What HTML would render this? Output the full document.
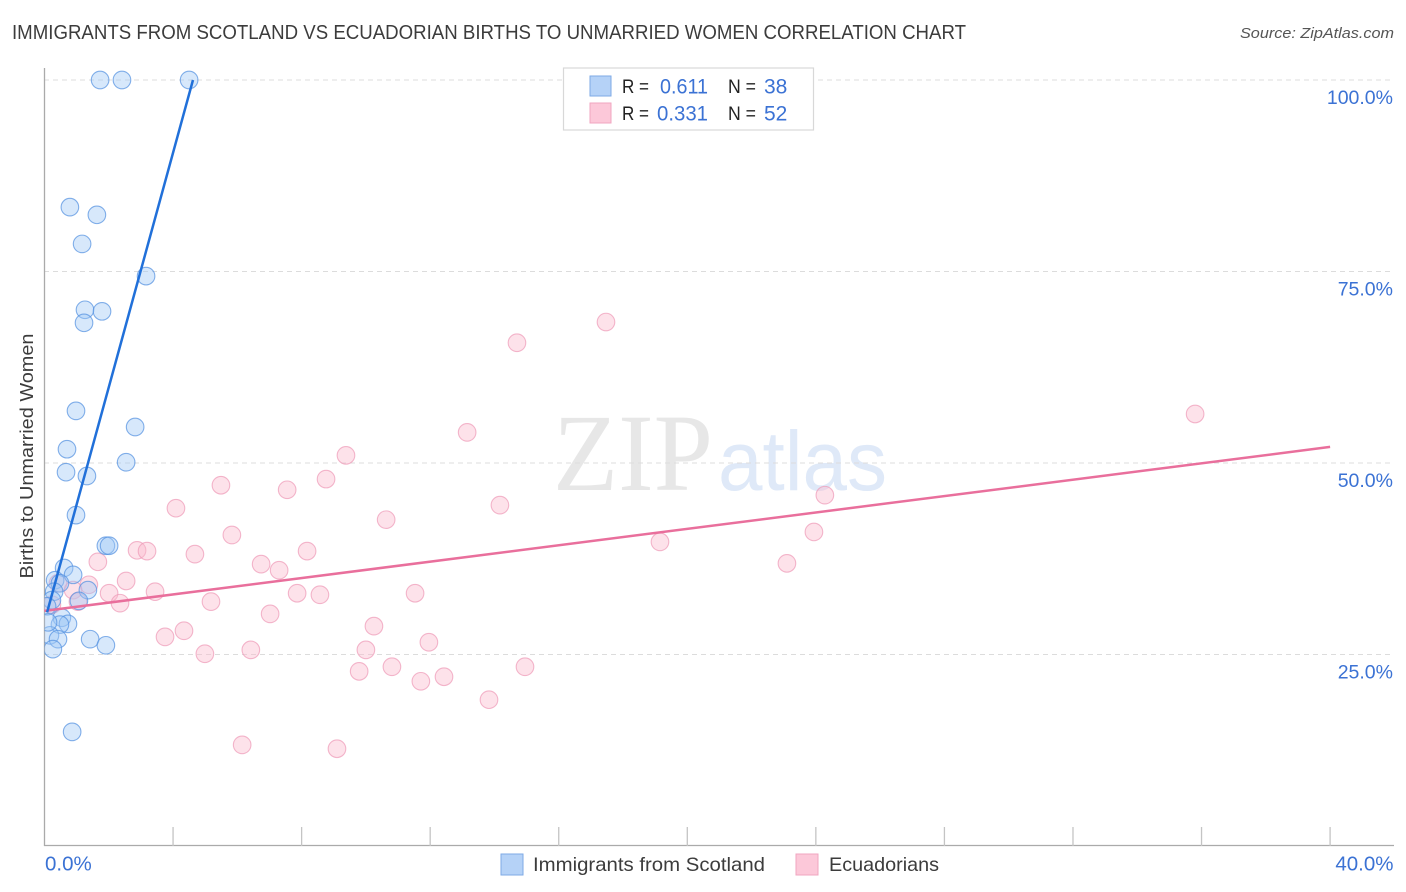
<!DOCTYPE html>
<html lang="en">
<head>
<meta charset="utf-8">
<title>Immigrants from Scotland vs Ecuadorian Births to Unmarried Women Correlation Chart</title>
<style>
html,body{margin:0;padding:0;background:#fff;width:1406px;height:892px;overflow:hidden}
svg{display:block;font-family:"Liberation Sans",sans-serif}
</style>
</head>
<body>
<svg id="chart" width="1406" height="892" viewBox="0 0 1406 892" xmlns="http://www.w3.org/2000/svg">
<defs><clipPath id="plot-clip"><rect x="44.5" y="60" width="1350" height="786"/></clipPath></defs>
<text x="12" y="39" font-size="20" fill="#3c3c3c" textLength="954" lengthAdjust="spacingAndGlyphs">IMMIGRANTS FROM SCOTLAND VS ECUADORIAN BIRTHS TO UNMARRIED WOMEN CORRELATION CHART</text>
<text x="1394" y="38" font-size="15" font-style="italic" fill="#555" text-anchor="end" textLength="154" lengthAdjust="spacingAndGlyphs">Source: ZipAtlas.com</text>
<g>
<text x="553" y="490" font-family="'Liberation Serif',serif" font-size="110" fill="#e7e7e7" textLength="160" lengthAdjust="spacingAndGlyphs">ZIP</text>
<text x="718" y="490" font-size="84" fill="#dfe9f8" textLength="169" lengthAdjust="spacingAndGlyphs">atlas</text>
</g>
<g id="grid"></g>
<g id="axes">
<line x1="44.5" y1="68" x2="44.5" y2="846" stroke="#aaa" stroke-width="1.3"/>
<line x1="44" y1="845.5" x2="1394" y2="845.5" stroke="#aaa" stroke-width="1.3"/>
</g>
<g id="xticks"></g>
<g id="ylabels"></g>
<g id="xlabels"></g>
<text transform="translate(33,456) rotate(-90)" font-size="18" fill="#3c3c3c" text-anchor="middle" textLength="245" lengthAdjust="spacingAndGlyphs">Births to Unmarried Women</text>
<g id="points-ecuadorians" clip-path="url(#plot-clip)"></g>
<g id="points-scotland" clip-path="url(#plot-clip)"></g>
<g id="trends"></g>
<g>
<rect x="563.5" y="68" width="250" height="62" fill="#fff" stroke="#d8d8d8" stroke-width="1.2"/>
<rect x="590" y="76" width="21" height="20" fill="#b5d2f7" stroke="#7eaae6" stroke-width="1"/>
<rect x="590" y="103" width="21" height="20" fill="#fcc8d9" stroke="#f0a6c0" stroke-width="1"/>
<text x="622" y="93" font-size="19.5" fill="#222" textLength="27" lengthAdjust="spacingAndGlyphs">R =</text>
<text x="660" y="93.500" font-size="21" fill="#3b72d4" textLength="48" lengthAdjust="spacingAndGlyphs">0.611</text>
<text x="728" y="93" font-size="19.5" fill="#222" textLength="28" lengthAdjust="spacingAndGlyphs">N =</text>
<text x="764" y="93.500" font-size="21" fill="#3b72d4">38</text>
<text x="622" y="120" font-size="19.5" fill="#222" textLength="27" lengthAdjust="spacingAndGlyphs">R =</text>
<text x="657" y="120.500" font-size="21" fill="#3b72d4" textLength="51" lengthAdjust="spacingAndGlyphs">0.331</text>
<text x="728" y="120" font-size="19.5" fill="#222" textLength="28" lengthAdjust="spacingAndGlyphs">N =</text>
<text x="764" y="120.500" font-size="21" fill="#3b72d4">52</text>
</g>
<g>
<rect x="501" y="854" width="22" height="21" fill="#b5d2f7" stroke="#7eaae6" stroke-width="1"/>
<text x="533" y="871" font-size="19.5" fill="#3c3c3c" textLength="232" lengthAdjust="spacingAndGlyphs">Immigrants from Scotland</text>
<rect x="796" y="854" width="22" height="21" fill="#fcc8d9" stroke="#f0a6c0" stroke-width="1"/>
<text x="829" y="871" font-size="19.5" fill="#3c3c3c" textLength="110" lengthAdjust="spacingAndGlyphs">Ecuadorians</text>
</g>
</svg>
<script>
const yTickValues = [25, 50, 75, 100];
const yTickLabels = ["25.0%", "50.0%", "75.0%", "100.0%"];
const xTickValues = [0, 4, 8, 12, 16, 20, 24, 28, 32, 36, 40];
const xLabelValues = [0, 40];
const xLabelTexts = ["0.0%", "40.0%"];

const scotlandX = [1.73,2.41,4.50,0.79,1.63,1.17,3.16,1.26,1.79,1.23,0.98,2.82,0.70,2.54,0.67,1.32,0.98,1.91,2.01,0.61,0.89,0.33,0.48,1.35,1.07,0.30,0.23,0.08,0.54,0.73,0.48,0.17,0.42,1.42,1.91,0.26,0.86,0.11];
const scotlandY = [100,100,100,83.4,82.4,78.6,74.4,70.0,69.8,68.3,56.8,54.7,51.8,50.1,48.8,48.3,43.2,39.2,39.2,36.3,35.4,34.7,34.3,33.4,32.0,33.2,32.1,31.3,29.8,29.0,28.9,27.5,27.0,27.0,26.2,25.7,14.9,29.2];

const ecuadorX = [17.47,14.70,35.80,13.15,9.38,8.76,5.49,7.55,24.28,4.09,14.17,10.63,23.94,5.83,19.15,2.88,3.19,4.68,8.17,1.66,6.74,7.30,23.10,2.54,1.38,0.42,0.89,2.01,3.44,7.86,8.57,11.53,5.18,2.35,1.04,7.02,10.25,4.34,3.75,11.96,4.99,6.42,10.00,9.79,10.81,14.95,12.43,11.71,13.83,6.15,9.10,0.23];
const ecuadorY = [68.4,65.7,56.4,54.0,51.0,47.9,47.1,46.5,45.8,44.1,44.5,42.6,41.0,40.6,39.7,38.6,38.5,38.1,38.5,37.1,36.8,36.0,36.9,34.6,34.1,34.3,33.4,33.0,33.2,33.0,32.8,33.0,31.9,31.7,31.9,30.3,28.7,28.1,27.3,26.6,25.1,25.6,25.6,22.8,23.4,23.4,22.1,21.5,19.1,13.2,12.7,31.5];

const scotlandTrendX = [0.08, 4.62];
const scotlandTrendY = [30.5, 100];
const ecuadorTrendX = [0, 40];
const ecuadorTrendY = [30.7, 52.1];

const SVG_NS = "http://www.w3.org/2000/svg";
function xScale(v) { return 44.5 + v * 32.14; }
function yScale(v) { return 846 - v * 7.66; }
function make(tag, parentId, attrs) {
  const el = document.createElementNS(SVG_NS, tag);
  for (const k in attrs) el.setAttribute(k, attrs[k]);
  document.getElementById(parentId).appendChild(el);
  return el;
}

yTickValues.forEach(function (v, i) {
  const g = make("line", "grid", {x1: 44, x2: 1394, y1: yScale(v), y2: yScale(v), stroke: "#dcdcdc", "stroke-width": 1, "stroke-dasharray": "5 4"});
  
  
  const t = make("text", "ylabels", {x: 1393, y: yScale(v) + 24, "font-size": 19.5, fill: "#3b72d4", "text-anchor": "end"});
  t.textContent = yTickLabels[i];
  
  
});

xTickValues.forEach(function (v, i) {
  if (i === 0) return;
  const tk = make("line", "xticks", {x1: xScale(v), x2: xScale(v), y1: 827, y2: 846, stroke: "#c4c4c4", "stroke-width": 1.3});
  
  
});

xLabelValues.forEach(function (v, i) {
  const anchor = i === 0 ? "start" : "end";
  const px = i === 0 ? xScale(v) + 0.5 : 1393.5;
  const t = make("text", "xlabels", {x: px, y: 870.5, "font-size": 20.5, fill: "#3b72d4", "text-anchor": anchor});
  t.textContent = xLabelTexts[i];
  
  
});

ecuadorX.forEach(function (v, i) {
  const c = make("circle", "points-ecuadorians", {cx: xScale(v), cy: yScale(ecuadorY[i]), r: 8.8, fill: "rgba(250,185,205,0.42)", stroke: "rgba(238,155,185,0.72)", "stroke-width": 1.1});
  
  
});

scotlandX.forEach(function (v, i) {
  const c = make("circle", "points-scotland", {cx: xScale(v), cy: yScale(scotlandY[i]), r: 8.8, fill: "rgba(160,200,245,0.42)", stroke: "rgba(85,145,225,0.72)", "stroke-width": 1.1});
  
  
});

const ecuadorLine = make("line", "trends", {x1: xScale(ecuadorTrendX[0]), y1: yScale(ecuadorTrendY[0]), x2: xScale(ecuadorTrendX[1]), y2: yScale(ecuadorTrendY[1]), stroke: "#e96f9c", "stroke-width": 2.5});



const scotlandLine = make("line", "trends", {x1: xScale(scotlandTrendX[0]), y1: yScale(scotlandTrendY[0]), x2: xScale(scotlandTrendX[1]), y2: yScale(scotlandTrendY[1]), stroke: "#2170d9", "stroke-width": 2.5});


</script>
</body>
</html>
